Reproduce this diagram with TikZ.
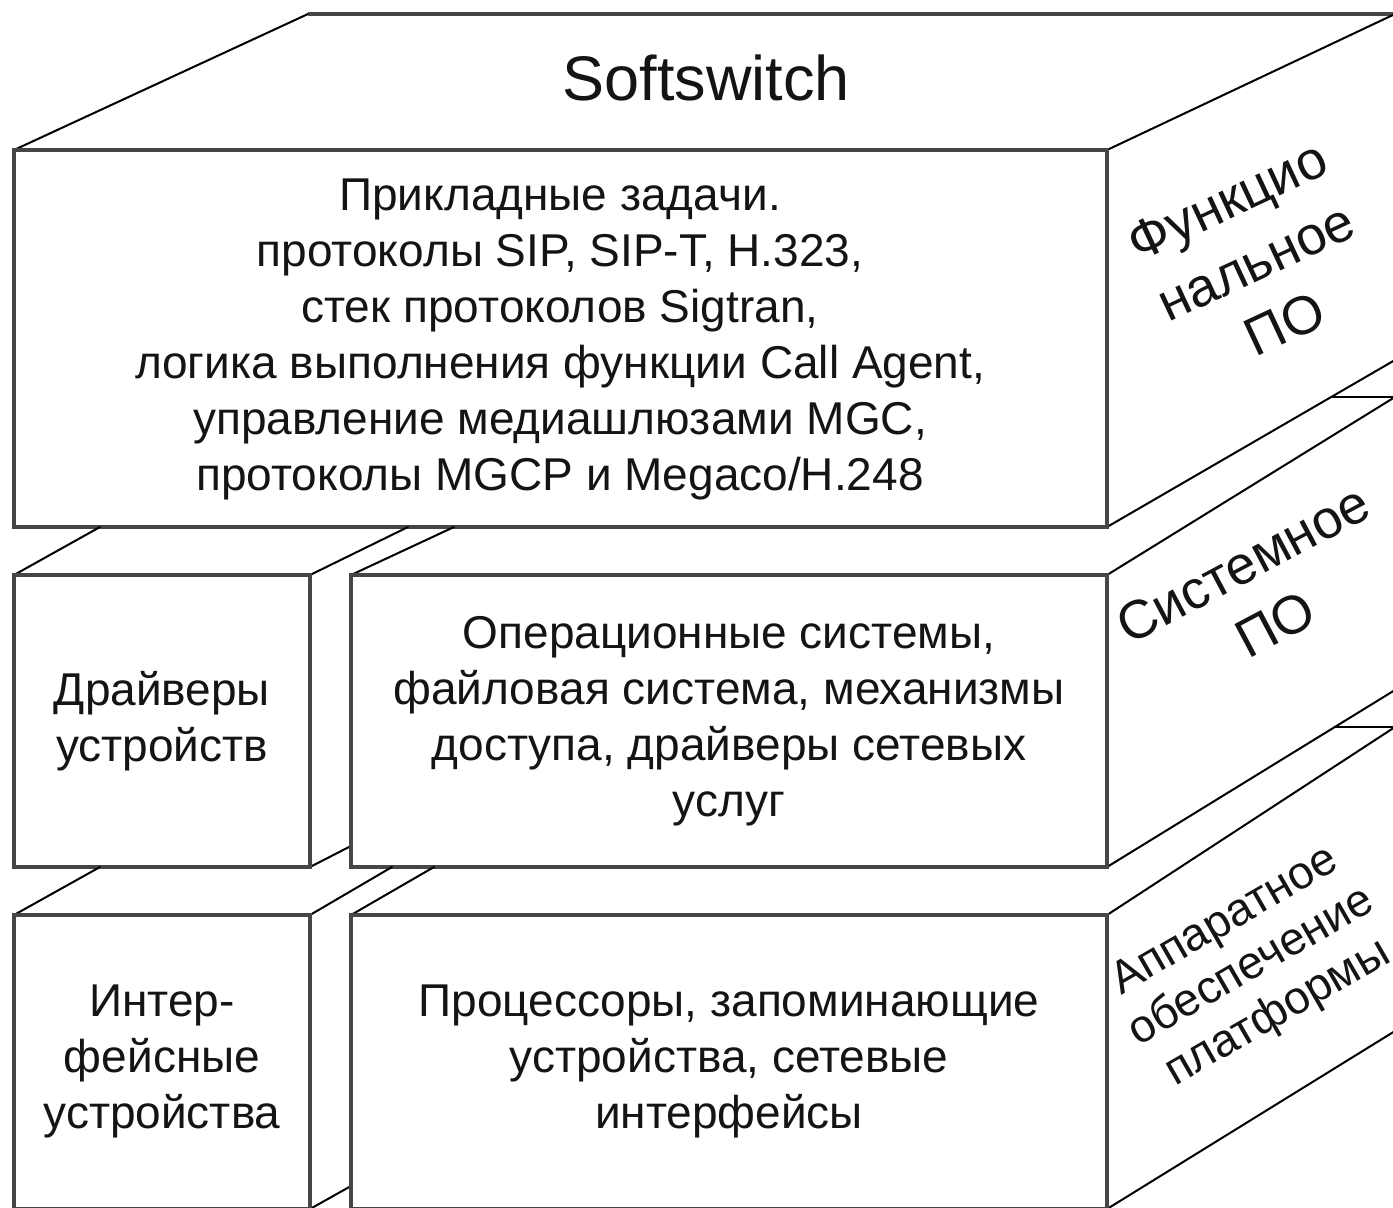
\documentclass[tikz,border=0pt]{standalone}
\usepackage{fontspec}
\setmainfont{Liberation Sans}
\definecolor{facegray}{RGB}{70,70,70}
\definecolor{inkgray}{RGB}{20,20,20}
\begin{document}
\begin{tikzpicture}[x=1pt,y=-1pt,
  face/.style={draw=facegray,line width=3.2pt},
  depth/.style={draw=black,line width=2pt,line cap=round},
  body/.style={text=inkgray,align=center,inner sep=0pt,font=\fontsize{46}{56}\selectfont},
  title/.style={text=inkgray,inner sep=0pt,font=\fontsize{63}{70}\selectfont},
  sidelabel/.style={text=inkgray,align=center,inner sep=0pt,font=\fontsize{54}{68}\selectfont},
  sidesmall/.style={text=inkgray,align=center,inner sep=0pt,font=\fontsize{46}{53}\selectfont}]
\useasboundingbox (0,0) rectangle (1393,1208);
\clip (0,0) rectangle (1393,1208);
\fill[white] (0,0) rectangle (1393,1208);

% upper layer: functional software
\draw[depth] (14,150) -- (308,14);
\draw[face] (308,14) -- (1400,14);
\draw[depth] (1107,150) -- (1395,14);
\draw[depth] (1107,527) -- (1395,360);
\draw[face] (14,150) rectangle (1107,527);

% middle layer: system software
\draw[depth] (14,575) -- (100,527);
\draw[depth] (310,575) -- (408,527);
\draw[depth] (310,867) -- (351,846);
\draw[depth] (351,575) -- (454,527);
\draw[depth] (1107,575) -- (1395,397);
\draw[depth] (1331,397) -- (1395,397);
\draw[depth] (1107,867) -- (1395,690);
\draw[face] (14,575) rectangle (310,867);
\draw[face] (351,575) rectangle (1107,867);

% lower layer: platform hardware (its base runs along the lower edge)
\draw[depth] (14,915) -- (100,867);
\draw[depth] (310,915) -- (392,867);
\draw[depth] (351,915) -- (434,867);
\draw[depth] (310,1209) -- (351,1186);
\draw[depth] (1107,915) -- (1395,727);
\draw[depth] (1335,727) -- (1395,727);
\draw[depth] (1107,1209) -- (1395,1031);
\draw[face] (14,915) rectangle (310,1209);
\draw[face] (351,915) rectangle (1107,1209);

% labels
\node[title] (soft) at (706,78) {Softswitch};
\node[body] (apps) at (560,339) {Прикладные задачи.\\протоколы SIP, SIP-T, H.323,\\стек протоколов Sigtran,\\логика выполнения функции Call Agent,\\управление медиашлюзами MGC,\\протоколы MGCP и Megaco/H.248};
\node[body] (drv) at (162,721) {Драйверы\\устройств};
\node[body] (os) at (729,721) {Операционные системы,\\файловая система, механизмы\\доступа, драйверы сетевых\\услуг};
\node[body] (ifc) at (162,1061) {Интер-\\фейсные\\устройства};
\node[body] (cpu) at (729,1061) {Процессоры, запоминающие\\устройства, сетевые\\интерфейсы};

\node[sidelabel,rotate=25] (fpo) at (1256,262) {Функцио\\нальное\\ПО};
\node[sidelabel,rotate=28] (spo) at (1259,594) {Системное\\ПО};
\node[sidesmall,rotate=30] (hw) at (1252,968) {Аппаратное\\обеспечение\\платформы};
\end{tikzpicture}
\end{document}
